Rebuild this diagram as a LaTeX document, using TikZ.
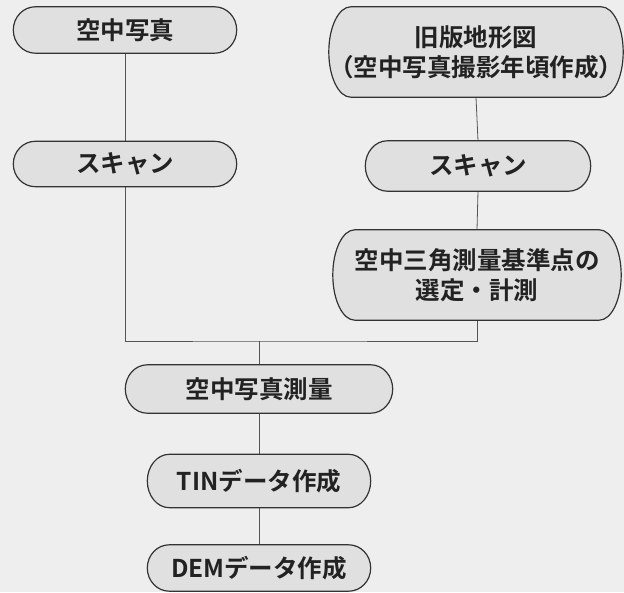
\documentclass[tikz,border=0pt]{standalone}
\usepackage{fontspec}
\newfontfamily\jpfont{Noto Sans CJK JP}[BoldFont={* Bold}]
\usetikzlibrary{calc,backgrounds}
\definecolor{bgcol}{HTML}{EEEEEE}
\definecolor{boxfill}{HTML}{E0E0E0}
\definecolor{boxline}{HTML}{333333}
\definecolor{linkcol}{HTML}{555555}
\definecolor{txtcol}{HTML}{222222}
\newcommand\capsule[1]{%
  \path[capstyle] let \p1=(#1.north west), \p2=(#1.south east), \n1={(\y1-\y2)/2} in
    (\x1+22pt,\y1) -- (\x2-22pt,\y1)
    arc[start angle=90,end angle=-90,x radius=22pt,y radius=\n1]
    -- (\x1+22pt,\y2)
    arc[start angle=270,end angle=90,x radius=22pt,y radius=\n1] -- cycle;}
\begin{document}
\begin{tikzpicture}[x=1pt,y=1pt,
  capstyle/.style={fill=boxfill,draw=boxline,line width=1.2pt},
  stepbox/.style={inner sep=0pt,align=center,text=txtcol,
    font=\jpfont\bfseries\fontsize{24.5}{30}\selectfont},
  link/.style={draw=linkcol,line width=0.8pt}]
\useasboundingbox (0,0) rectangle (624,592);
\node[stepbox,minimum width=223pt,minimum height=46pt] (a) at (125,562) {空中写真};
\node[stepbox,minimum width=223pt,minimum height=45pt] (b) at (125,428) {スキャン};
\node[stepbox,minimum width=292pt,minimum height=90pt] (c) at (476,540) {旧版地形図\\（空中写真撮影年頃作成）};
\node[stepbox,minimum width=225pt,minimum height=50pt] (d) at (478,426) {スキャン};
\node[stepbox,minimum width=288pt,minimum height=90pt] (e) at (477,317) {空中三角測量基準点の\\選定・計測};
\node[stepbox,minimum width=267pt,minimum height=48pt] (f) at (259,203) {空中写真測量};
\node[stepbox,minimum width=223pt,minimum height=53pt] (g) at (259,111) {TINデータ作成};
\node[stepbox,minimum width=223pt,minimum height=46pt] (h) at (259,24) {DEMデータ作成};
\coordinate (j) at (259,251);
\begin{scope}[on background layer]
  \fill[bgcol] (0,0) rectangle (624,592);
  \draw[link] (a.south) -- (b.north);
  \draw[link] (c.south) -- (d.north);
  \draw[link] (d.south) -- (e.north);
  \draw[link] (b.south) |- (j) -| (e.south);
  \draw[link] (j) -- (f.north);
  \draw[link] (f.south) -- (g.north);
  \draw[link] (g.south) -- (h.north);
  \capsule{a}\capsule{b}\capsule{c}\capsule{d}\capsule{e}\capsule{f}\capsule{g}\capsule{h}
\end{scope}
\end{tikzpicture}
\end{document}
